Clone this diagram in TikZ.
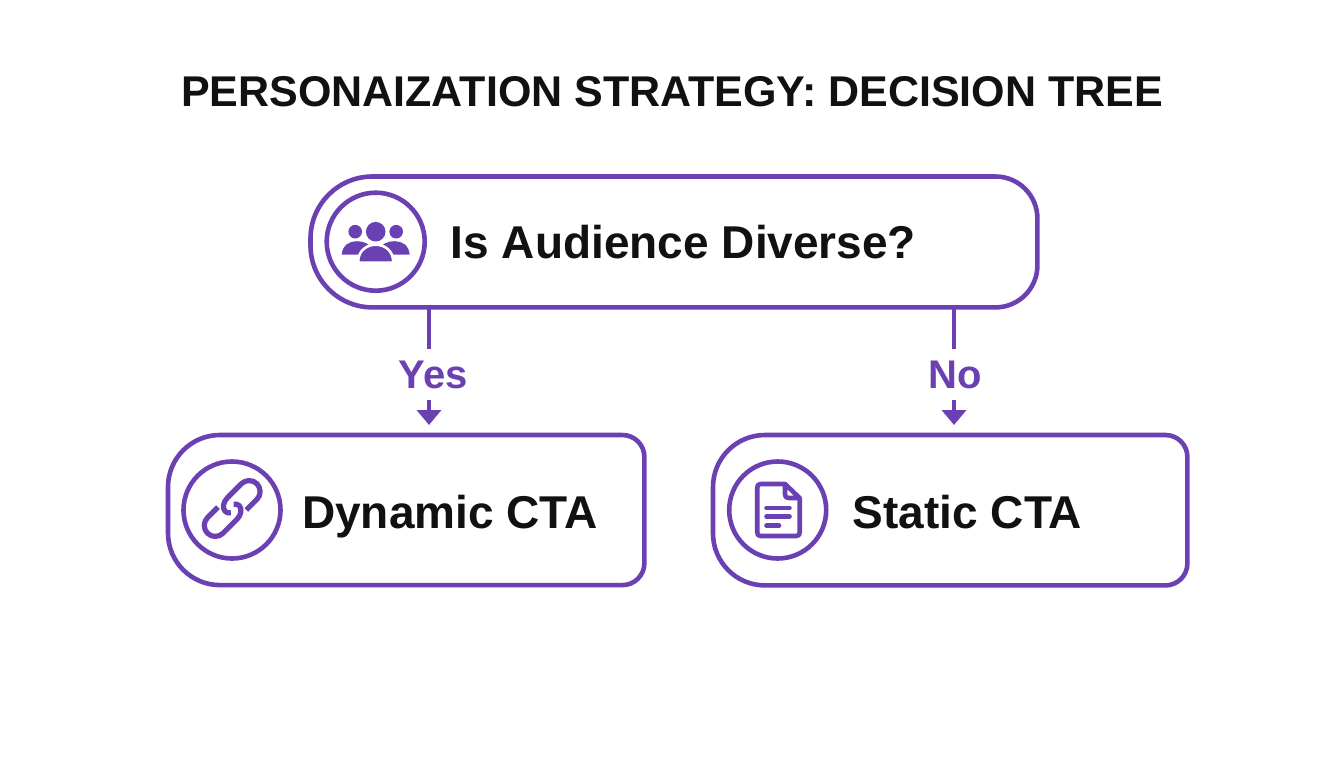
\documentclass[tikz,border=0pt]{standalone}
\usepackage{fontspec}
\setmainfont{Liberation Sans}
\usetikzlibrary{arrows.meta}
\definecolor{pur}{HTML}{6A40B2}
\definecolor{ink}{HTML}{111111}
\tikzset{
  x=1pt,y=-1pt,
  box/.style={rectangle,inner sep=0pt,anchor=north west},
  outline/.style={draw=pur,line width=4.6pt},
  ring/.style={draw=pur,line width=4.6pt,fill=white},
  txt/.style={text=ink,font=\fontsize{46}{48}\selectfont\bfseries,inner sep=0pt,anchor=base},
  lab/.style={text=pur,font=\fontsize{40}{42}\selectfont\bfseries,inner sep=0pt,anchor=base},
  ttl/.style={text=ink,font=\fontsize{43}{46}\selectfont\bfseries,inner sep=0pt,anchor=base},
  conn/.style={draw=pur,line width=4.6pt},
  arr/.style={draw=pur,line width=4.6pt,-{Triangle[width=24pt,length=15pt]},shorten >=10pt},
  ico/.style={draw=pur,line width=4.6pt,line cap=round,line join=round},
  linkp/.style={draw=pur,line width=5.2pt,line cap=butt,line join=round}
}
\begin{document}
\begin{tikzpicture}
\useasboundingbox (0,0) rectangle (1344,768);
\fill[white] (0,0) rectangle (1344,768);

\node[ttl] (title) at (672,106.5) {PERSONAIZATION STRATEGY: DECISION TREE};

% boxes
\node[box,minimum width=726.5pt,minimum height=130.5pt] (q) at (310.5,176.5) {};
\node[box,minimum width=476pt,minimum height=149.7pt] (dyn) at (168,435) {};
\node[box,minimum width=474pt,minimum height=150pt] (sta) at (713,435) {};

\draw[outline] (q.north) [rounded corners=42pt] -- (q.north east) -- (q.south east) [rounded corners=62pt] -- (q.south west) -- (q.north west) -- cycle;
\draw[outline] (dyn.north) [rounded corners=22pt] -- (dyn.north east) -- (dyn.south east) [rounded corners=52pt] -- (dyn.south west) -- (dyn.north west) -- cycle;
\draw[outline] (sta.north) [rounded corners=22pt] -- (sta.north east) -- (sta.south east) [rounded corners=52pt] -- (sta.south west) -- (sta.north west) -- cycle;

% texts
\node[txt] (qt) at (683.5,258) {Is Audience Diverse?};
\node[txt] (dt) at (450,528) {Dynamic CTA};
\node[txt] (st) at (967.5,528) {Static CTA};
\node[lab] (yes) at (433,388) {Yes};
\node[lab] (no) at (955.5,388) {No};

% connectors
\coordinate (ya) at (429,349);
\coordinate (yb) at (429,400);
\coordinate (na) at (954,349);
\coordinate (nb) at (954,400);
\draw[conn] (ya |- q.south) -- (ya);
\draw[arr] (yb) -- (yb |- dyn.north);
\draw[conn] (na |- q.south) -- (na);
\draw[arr] (nb) -- (nb |- sta.north);

% rings
\node[circle,ring,minimum size=98pt,inner sep=0pt] (ic1) at (375.7,241.7) {};
\node[circle,ring,minimum size=97pt,inner sep=0pt] (ic2) at (232,510) {};
\node[circle,ring,minimum size=97pt,inner sep=0pt] (ic3) at (777.7,510) {};

% people icon
\begin{scope}[shift={(375.7,241.7)}]
  \fill[pur] (-20.5,-10) circle (6.8pt);
  \fill[pur] (20.5,-10) circle (6.8pt);
  \fill[pur] (-34,12.8) .. controls (-33,3) and (-26,-0.5) .. (-19,-0.5) .. controls (-12,-0.5) and (-6,2) .. (-3,8) -- (-3,12.8) -- cycle;
  \fill[pur] (34,12.8) .. controls (33,3) and (26,-0.5) .. (19,-0.5) .. controls (12,-0.5) and (6,2) .. (3,8) -- (3,12.8) -- cycle;
  \filldraw[fill=pur,draw=white,line width=2.6pt] (-17.5,21) -- (-17.5,19) .. controls (-17,9) and (-9,3) .. (0,3) .. controls (9,3) and (17,9) .. (17.5,19) -- (17.5,21) -- cycle;
  \fill[pur] (0,-10) circle (9.8pt);
\end{scope}

% link icon: u runs up-right, v runs down-right
\begin{scope}[shift={(232.2,508.5)},x={(0.7071pt,0.7071pt)},y={(0.7071pt,-0.7071pt)}]
  \draw[linkp] (9,11) -- (24,11) .. controls (30,11) and (35,6) .. (35,0) .. controls (35,-6) and (30,-11) .. (24,-11) -- (4,-11)
     .. controls (-2,-11) and (-7,-7) .. (-7,-3) .. controls (-7,-1) and (-6,1) .. (-4,2);
  \draw[linkp] (-9,-11) -- (-24,-11) .. controls (-30,-11) and (-35,-6) .. (-35,0) .. controls (-35,6) and (-30,11) .. (-24,11) -- (-4,11)
     .. controls (2,11) and (7,7) .. (7,3) .. controls (7,1) and (6,-1) .. (4,-2);
\end{scope}

% document icon
\draw[ico] (785,484) -- (761,484) .. controls (758,484) and (757.2,485) .. (757.2,488) -- (757.2,532) .. controls (757.2,535) and (758,536) .. (761,536) -- (796,536) .. controls (799,536) and (799.7,535) .. (799.7,532) -- (799.7,498) -- (785,484) -- (785,494) .. controls (785,497) and (786,498) .. (789,498) -- (799.7,498);
\draw[ico] (766.5,508) -- (789.5,508);
\draw[ico] (766.5,516.7) -- (789.5,516.7);
\draw[ico] (766.5,525.7) -- (779,525.7);
\end{tikzpicture}
\end{document}
